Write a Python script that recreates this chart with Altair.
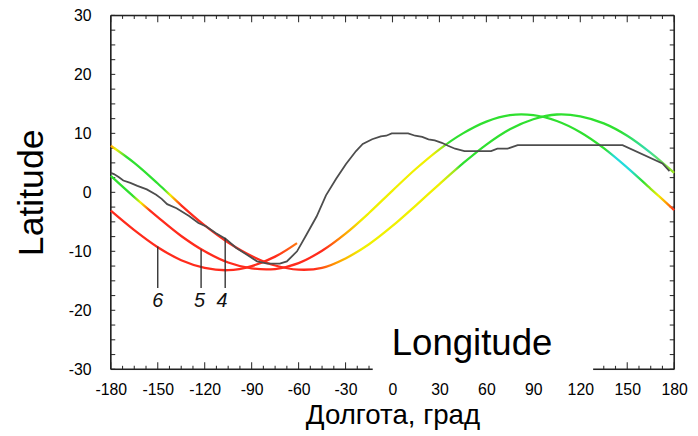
import altair as alt
import pandas as pd

FONT = "Liberation Sans"

# ---- data ----
lon_grid = [-180, -165, -150, -135, -120, -105, -90, -75, -60, -45, -30, -15,
            0, 15, 30, 45, 60, 75, 90, 105, 120, 135, 150, 165, 180]
curve4_lat = [7.9, 5.0, 1.5, -2.2, -5.6, -8.5, -10.8, -12.4, -13.1, -12.8, -11.2, -8.8,
              -5.7, -2.2, 1.4, 4.9, 8.1, 10.7, 12.4, 13.2, 12.9, 11.7, 9.6, 6.7, 3.3]
curve5_lat = [2.8, -0.8, -4.2, -7.4, -10.0, -11.9, -12.9, -13.0, -12.0, -9.9, -7.0, -3.5,
              0.3, 4.0, 7.3, 10.0, 12.0, 13.1, 13.1, 12.1, 10.2, 7.5, 4.2, 0.6, -3.0]
curve6_lon = [-180, -165, -150, -135, -120, -105, -90, -75, -61]
curve6_lat = [-3.1, -6.4, -9.3, -11.5, -12.8, -13.2, -12.5, -10.9, -8.6]

obs_lon = [-180, -178, -175, -172, -167.5, -163, -157, -151, -147.5, -144, -138, -130,
           -124, -119, -113, -106.5, -100, -93, -86.5, -80, -72, -67.5, -61, -55,
           -48.5, -42.5, -36, -29.7, -23.3, -19, -13, -7.5, -4, -0.5, 10, 14.5, 19,
           23, 27, 31.5, 35.5, 40, 46, 63, 67, 73.5, 80, 147, 172.5, 177]
obs_lat = [3.3, 3.1, 2.6, 2.0, 1.6, 1.1, 0.5, -0.4, -1.1, -2.0, -2.7, -4.0,
           -5.2, -5.8, -6.9, -7.9, -9.4, -10.6, -11.7, -12.1, -12.1, -11.7, -10.0, -7.2,
           -4.1, -0.5, 2.3, 4.8, 7.0, 8.2, 9.0, 9.5, 9.6, 10.0, 10.0, 9.6, 9.4,
           9.0, 8.8, 8.4, 7.9, 7.4, 7.0, 7.0, 7.4, 7.4, 8.0, 8.0, 4.9, 3.6]

mark_names = ["6", "5", "4"]
mark_lon = [-150, -122.3, -106.9]
mark_top = [-9.2, -9.7, -7.7]
mark_bottom = [-16.2, -16.2, -16.2]
mark_text_lon = [-150, -123.3, -109]
mark_text_lat = [-19.4, -19.4, -19.4]

x_labels = [-180, -150, -120, -90, -60, -30, 0, 30, 60, 90, 120, 150, 180]
y_labels = [-30, -20, -10, 0, 10, 20, 30]

# colour stops along longitude
RED, ORANGE, YELLOW, YGREEN, GREEN, CYAN, TEAL = (
    "#ff2b1c", "#ff9a00", "#f0f000", "#9be51e", "#2fe02f", "#22dcdc", "#33ddaa")
c4_stop_lon = [-180, -177, -174, -170, -146, -142, -139, -135, -50, -36, -20, 30, 40, 43, 145, 162, 180]
c4_stop_col = [ORANGE, YELLOW, YGREEN, GREEN, GREEN, YELLOW, ORANGE, RED, RED, ORANGE, YELLOW,
               YELLOW, YGREEN, GREEN, GREEN, TEAL, YGREEN]
c5_stop_lon = [-180, -166, -161, -158, -155, -44, -32, -19, 25, 32, 36, 136, 142, 152, 160, 170, 175, 180]
c5_stop_col = [GREEN, GREEN, YELLOW, ORANGE, RED, RED, ORANGE, YELLOW, YELLOW, YGREEN, GREEN,
               GREEN, CYAN, CYAN, GREEN, YELLOW, ORANGE, RED]
c6_stop_lon = [-180, -75, -61]
c6_stop_col = [RED, RED, "#ff7a10"]


def gradient(stop_lon, stop_col, lo, hi):
    return {"gradient": "linear", "x1": 0, "x2": 1, "y1": 0, "y2": 0,
            "stops": [{"offset": (l - lo) / (hi - lo), "color": c}
                      for l, c in zip(stop_lon, stop_col)]}


W, H = 570, 358
PX_LON = W / 360.0   # pixels per degree of longitude
PX_LAT = H / 60.0    # pixels per degree of latitude
xscale = alt.Scale(domain=[-180, 180], nice=False, zero=False)
yscale = alt.Scale(domain=[-30, 30], nice=False, zero=False)
xaxis = alt.Axis(values=x_labels, labelExpr="'' + datum.value", labelFontSize=16, labelFont=FONT,
                 labelColor="#000", labelPadding=13, labelFlush=False, labelOverlap=False,
                 ticks=False, tickSize=0, domain=False, grid=False, title="Долгота, град",
                 titleFontSize=28, titleFont=FONT, titleFontWeight="normal", titleColor="#000",
                 titlePadding=4, zindex=0)
yaxis = alt.Axis(values=y_labels, labelExpr="'' + datum.value", labelFontSize=16, labelFont=FONT,
                 labelColor="#000", labelPadding=20, labelFlush=False, labelOverlap=False,
                 ticks=False, tickSize=0, domain=False, grid=False, title="Latitude",
                 titleFontSize=36, titleFont=FONT, titleFontWeight="normal", titleColor="#000",
                 titlePadding=18, zindex=0)


def X(f):
    return alt.X(f, type="quantitative", scale=xscale, axis=xaxis)


def Y(f):
    return alt.Y(f, type="quantitative", scale=yscale, axis=yaxis)


# ---- frame + inner ticks (as short segments) ----
x_major = x_labels
x_minor = [-180 + 7.5 * i for i in range(49) if i % 4]
y_ticks = [-30 + 2.5 * i for i in range(25)]

rows = []
for vals, ln in ((x_major, 7), (x_minor, 3.5)):
    for v in vals:
        rows.append({"lon": v, "lat": 30, "lon2": v, "lat2": 30 - ln / PX_LAT})
        rows.append({"lon": v, "lat": -30, "lon2": v, "lat2": -30 + ln / PX_LAT})
for v in y_ticks:
    rows.append({"lon": -180, "lat": v, "lon2": -180 + 4.5 / PX_LON, "lat2": v})
    rows.append({"lon": 180, "lat": v, "lon2": 180 - 4.5 / PX_LON, "lat2": v})
ticks_df = pd.DataFrame(rows)

layers = []
layers.append(alt.Chart(ticks_df).mark_rule(color="#333", strokeWidth=1.1)
              .encode(x=X("lon"), y=Y("lat"), x2="lon2", y2="lat2"))
frame_h = pd.DataFrame({"lat": [30, -30]})
frame_v = pd.DataFrame({"lon": [-180, 180]})
layers.append(alt.Chart(frame_h).mark_rule(color="#222", strokeWidth=1.6).encode(y=Y("lat")))
layers.append(alt.Chart(frame_v).mark_rule(color="#222", strokeWidth=1.6).encode(x=X("lon")))

# ---- curves ----
df4 = pd.DataFrame({"lon": lon_grid, "lat": curve4_lat})
df5 = pd.DataFrame({"lon": lon_grid, "lat": curve5_lat})
df6 = pd.DataFrame({"lon": curve6_lon, "lat": curve6_lat})
layers.append(alt.Chart(df6).mark_line(interpolate="catmull-rom", strokeWidth=2.3,
                                       stroke=gradient(c6_stop_lon, c6_stop_col, -180, -61))
              .encode(x=X("lon"), y=Y("lat")))
layers.append(alt.Chart(df5).mark_line(interpolate="catmull-rom", strokeWidth=2.3,
                                       stroke=gradient(c5_stop_lon, c5_stop_col, -180, 180))
              .encode(x=X("lon"), y=Y("lat")))
layers.append(alt.Chart(df4).mark_line(interpolate="catmull-rom", strokeWidth=2.3,
                                       stroke=gradient(c4_stop_lon, c4_stop_col, -180, 180))
              .encode(x=X("lon"), y=Y("lat")))

dfo = pd.DataFrame({"lon": obs_lon, "lat": obs_lat})
layers.append(alt.Chart(dfo).mark_line(color="#4d4d4d", strokeWidth=1.8)
              .encode(x=X("lon"), y=Y("lat")))

# ---- numbered pointers ----
dfm = pd.DataFrame({"lon": mark_lon, "top": mark_top, "bottom": mark_bottom,
                    "tl": mark_text_lon, "tt": mark_text_lat, "name": mark_names})
layers.append(alt.Chart(dfm).mark_rule(color="#333", strokeWidth=1.4)
              .encode(x=X("lon"), y=Y("top"), y2="bottom"))
layers.append(alt.Chart(dfm).mark_text(fontSize=20, fontStyle="italic", font=FONT, color="#111",
                                       align="center", baseline="alphabetic")
              .encode(x=X("tl"), y=Y("tt"), text="name:N"))

# ---- "Longitude" overlay box ----
one = pd.DataFrame({"t": ["Longitude"]})
layers.append(alt.Chart(one).mark_rect(color="white", opacity=1)
              .encode(x=alt.value(265), x2=alt.value(488), y=alt.value(298), y2=alt.value(362)))
layers.append(alt.Chart(one).mark_text(fontSize=37, font=FONT, color="#000", align="center",
                                       baseline="alphabetic")
              .encode(text="t:N", x=alt.value(365.5), y=alt.value(343.5)))

chart = alt.layer(*layers).properties(
    width=W, height=H,
    autosize=alt.AutoSizeParams(type="none"),
    padding={"left": 104, "top": 5, "right": 16, "bottom": 65},
).configure_view(stroke=None).configure(background="white")

chart.save("out.html", embed_options={"renderer": "svg", "actions": False})
